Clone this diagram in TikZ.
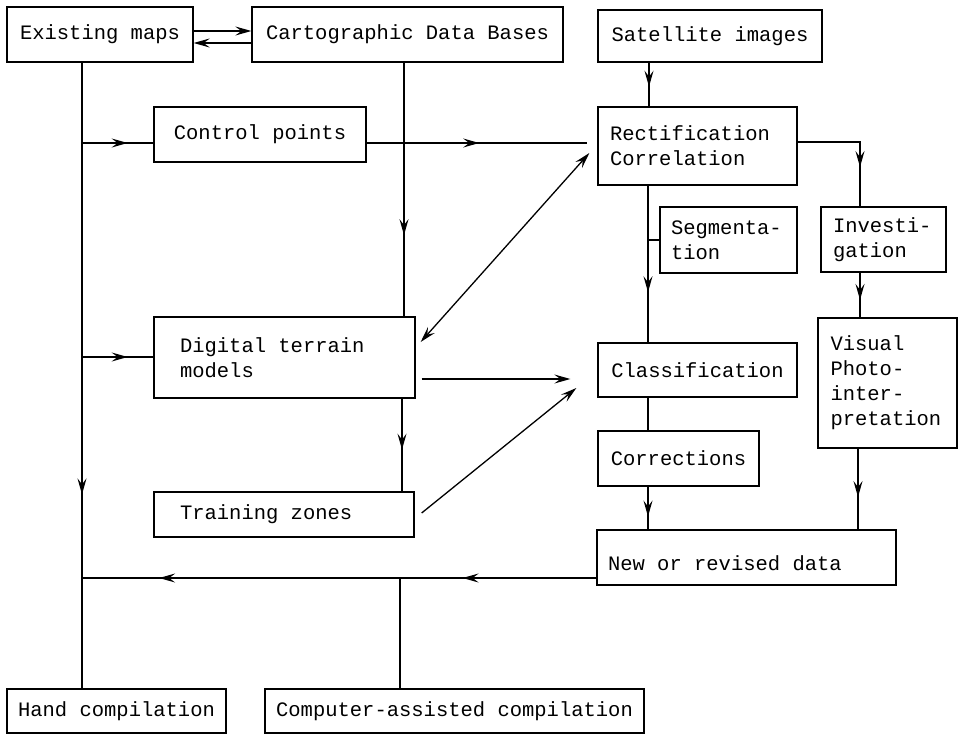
\documentclass[tikz,border=0pt]{standalone}
\usepackage{fontspec}
\setmainfont{Liberation Mono}
\usetikzlibrary{arrows.meta,decorations.markings,calc}
\newcommand{\fixsp}{\spaceskip=0.6em\relax}
\begin{document}
\begin{tikzpicture}[x=1pt,y=-1pt,
  myarr/.tip={Stealth[length=16pt,width=9pt,inset=6pt]},
  conn/.style={line width=1.3pt},
  box/.style={draw,line width=1.3pt,inner sep=0pt,font=\fontsize{20.5pt}{25pt}\selectfont},
  lbox/.style={box,align=left},
  midarr/.style={postaction={decorate},decoration={markings,mark=at position #1 with {\arrow{myarr}}}},
  twoarr/.style 2 args={postaction={decorate},decoration={markings,mark=at position #1 with {\arrow{myarr}},mark=at position #2 with {\arrow{myarr}}}}]
\useasboundingbox (0,0) rectangle (958,734);
% boxes
\node[box,minimum width=186pt,minimum height=55pt] (em) at (100,34.5) {Existing maps};
\node[box,minimum width=311pt,minimum height=55pt] (cart) at (407.5,34.5) {Cartographic Data Bases};
\node[box,minimum width=224pt,minimum height=52pt] (sat) at (710,36) {Satellite images};
\node[box,minimum width=212pt,minimum height=55pt] (ctrl) at (260,134.5) {Control points};
\node[lbox,minimum width=199pt,minimum height=78pt,text width=175pt] (rect) at (697.5,146) {Rectification\\Correlation};
\node[lbox,minimum width=137pt,minimum height=66pt,text width=115pt] (seg) at (728.5,240) {Segmenta-\\tion};
\node[lbox,minimum width=125pt,minimum height=65pt,text width=101pt] (inv) at (883.5,239.5) {Investi-\\gation};
\node[lbox,minimum width=139pt,minimum height=130pt,text width=114pt] (vis) at (887.5,383) {Visual\\Photo-\\inter-\\pretation};
\node[box,minimum width=199pt,minimum height=54pt] (cls) at (697.5,370) {Classification};
\node[box,minimum width=161pt,minimum height=55pt] (corr) at (678.5,458.5) {Corrections};
\node[lbox,minimum width=299pt,minimum height=55pt,text width=277pt] (new) at (746.5,557.5) {\fixsp\raisebox{-6pt}[\height][\depth]{\fixsp New or revised data}};
\node[lbox,minimum width=261pt,minimum height=81pt,text width=209pt] (dtm) at (284.5,357.5) {\fixsp Digital terrain\\models};
\node[lbox,minimum width=260pt,minimum height=45pt,text width=208pt] (train) at (284,514.5) {\fixsp Training zones};
\node[box,minimum width=219pt,minimum height=44pt] (hand) at (116.5,711) {Hand compilation};
\node[box,minimum width=379pt,minimum height=44pt] (comp) at (454.5,711) {Computer-assisted compilation};
% helper coordinates
\coordinate (jc) at (82,143);
\coordinate (jd) at (82,357);
\coordinate (y31) at (0,31);
\coordinate (y43) at (0,43);
\coordinate (xs) at (648,0);
\coordinate (xsat) at (649,0);
\coordinate (yri) at (0,142);
\coordinate (xv) at (860,0);
\coordinate (xv2) at (858,0);
\coordinate (yb) at (0,578);
\coordinate (xc) at (400,0);
\coordinate (xcart) at (404,0);
\coordinate (xdt) at (402,0);
\coordinate (ydc) at (0,379);
% connectors
\draw[conn,-myarr] (em.east |- y31) -- (cart.west |- y31);
\draw[conn,-myarr] (cart.west |- y43) -- (em.east |- y43);
\draw[conn,midarr=0.69] (em.south -| jc) -- (hand.north -| jc);
\draw[conn,midarr=0.64] (jc) -- (ctrl.west |- jc);
\draw[conn,midarr=0.64] (jd) -- (dtm.west |- jd);
\draw[conn,midarr=0.51] (ctrl.east |- jc) -- ([xshift=-10pt]rect.west |- jc);
\draw[conn,midarr=0.55] (sat.south -| xsat) -- (rect.north -| xsat);
\draw[conn,midarr=0.68] (rect.south -| xs) -- (cls.north -| xs);
\draw[conn] (seg.west) -- (seg.west -| xs);
\draw[conn] (cls.south -| xs) -- (corr.north -| xs);
\draw[conn,midarr=0.7] (corr.south -| xs) -- (new.north -| xs);
\draw[conn,midarr=0.69] (rect.east |- yri) -| (inv.north -| xv);
\draw[conn,midarr=0.61] (inv.south -| xv) -- (vis.north -| xv);
\draw[conn,midarr=0.6] (vis.south -| xv2) -- (new.north -| xv2);
\draw[conn,twoarr={0.26}{0.85}] (new.west |- yb) -- (jc |- yb);
\draw[conn] (xc |- yb) -- (comp.north -| xc);
\draw[conn,midarr=0.68] (cart.south -| xcart) -- (dtm.north -| xcart);
\draw[conn,midarr=0.55] (dtm.south -| xdt) -- (train.north -| xdt);
\draw[conn,-myarr] ([xshift=6pt]dtm.east |- ydc) -- ([xshift=-27pt]cls.west |- ydc);
\draw[conn,myarr-myarr] ($(dtm.east)+(5,-15.5)$) -- ($(rect.west)+(-8,7)$);
\draw[conn,-myarr] ($(train.east)+(7,-1.5)$) -- ($(cls.west)+(-21,18)$);
\end{tikzpicture}
\end{document}
